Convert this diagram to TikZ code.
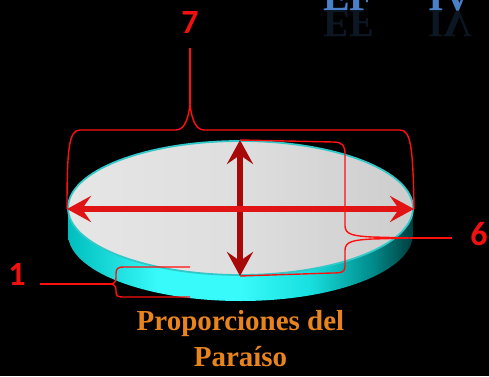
\documentclass[tikz,border=0pt]{standalone}
\usepackage{fontspec}
\setmainfont{Liberation Serif}
\newfontfamily\lblfont{Carlito}
\usetikzlibrary{arrows.meta}
\definecolor{titleblue}{HTML}{4A80C8}
\definecolor{bracered}{HTML}{FF1010}
\definecolor{lblred}{HTML}{F01010}
\definecolor{hred}{HTML}{E01414}
\definecolor{vred}{HTML}{A80808}
\definecolor{capor}{HTML}{E8841E}
\definecolor{rimcyan}{HTML}{30C8C8}
\definecolor{sA}{HTML}{00BEBE}
\definecolor{sB}{HTML}{38FAFA}
\definecolor{sC}{HTML}{18E0E0}
\definecolor{sD}{HTML}{008C8C}
\definecolor{sE}{HTML}{003C3C}
\definecolor{tA}{HTML}{E6E6E6}
\definecolor{tB}{HTML}{DEDEDE}
\definecolor{tC}{HTML}{CDCDCD}
\pgfdeclarehorizontalshading{sideshade}{100bp}{color(0bp)=(sA); color(25bp)=(sA); color(38bp)=(sB); color(50bp)=(sB); color(60bp)=(sC); color(69bp)=(sD); color(75bp)=(sE); color(100bp)=(sE)}
\pgfdeclarehorizontalshading{topshade}{100bp}{color(0bp)=(tA); color(25bp)=(tA); color(50bp)=(tB); color(75bp)=(tC); color(100bp)=(tC)}
\tikzset{
  brace/.style={draw=bracered, line width=1.4pt},
  lbl/.style={text=lblred, font=\lblfont\bfseries\fontsize{34}{34}\selectfont, inner sep=0pt},
  captxt/.style={text=capor, font=\bfseries\fontsize{29}{32}\selectfont, inner sep=0pt, anchor=base},
  ttl/.style={text=titleblue, font=\bfseries\fontsize{40}{40}\selectfont, inner sep=0pt, anchor=base west},
  dimarrow/.style={line width=6.5pt, {Stealth[length=24pt,width=26pt,inset=9pt]}-{Stealth[length=24pt,width=26pt,inset=9pt]}}
}
\begin{document}
\begin{tikzpicture}[x=1pt,y=1pt]
\useasboundingbox (0,0) rectangle (489,376);
\fill[black] (0,0) rectangle (489,376);
% title (cut off at the top)
\node[ttl] (t1) at (323,366) {EF};
\node[ttl] (t2) at (428,366) {IV};
\begin{scope}[shift={(0,366)}, yscale=-1]
\node[ttl, transform shape, opacity=0.18] (t1r) at (323,0) {EF};
\node[ttl, transform shape, opacity=0.18] (t2r) at (428,0) {IV};
\end{scope}
% disc side
\shade[shading=sideshade] (68,168) -- (68,142) arc[start angle=180,end angle=360,x radius=172.5,y radius=67] -- (413,168) arc[start angle=0,end angle=-180,x radius=172.5,y radius=67] -- cycle;
% disc top
\shade[shading=topshade, draw=rimcyan, line width=1.8pt] (240.5,168) ellipse[x radius=172.5,y radius=67];
% arrow ends
\coordinate (L) at (67,167);
\coordinate (R) at (414,167);
\coordinate (T) at (240,236);
\coordinate (B) at (240,100);
\draw[dimarrow, draw=vred, fill=vred] (B) -- (T);
\draw[dimarrow, draw=hred, fill=hred] (L) -- (R);
% labels
\node[lbl] (n7) at (190,354) {7};
\node[lbl] (n6) at (479,142) {6};
\node[lbl] (n1) at (17,102) {1};
% brace 7
\coordinate (c7) at (190,272);
\coordinate (e7) at (190,328);
\draw[brace] (L) .. controls (67,228) and (69,246) .. (80,246) -- (176,246) .. controls (186,246) and (189,262) .. (c7)
  .. controls (191,262) and (194,246) .. (204,246) -- (400,246) .. controls (411,246) and (413,228) .. (R);
\draw[brace] (c7) -- (e7);
% brace 6
\coordinate (c6) at (410,138);
\coordinate (e6) at (452,138);
\draw[brace] (T) -- (333,234) .. controls (343,234) and (345,230) .. (345,222) -- (345,150) .. controls (345,141) and (355,140) .. (372,139) -- (c6)
  -- (372,137) .. controls (355,136) and (345,135) .. (345,126) -- (345,110) .. controls (345,104) and (342,103) .. (332,103) -- (B);
\draw[brace] (c6) -- (e6);
% brace 1
\coordinate (u1) at (190,109);
\coordinate (d1) at (190,79);
\coordinate (c1) at (110,92);
\coordinate (e1) at (40,92);
\draw[brace] (u1) -- (124,109) .. controls (117,109) and (116,107) .. (116,102) -- (116,98) .. controls (116,94) and (114,92) .. (c1)
  .. controls (114,92) and (116,90) .. (116,86) -- (116,85) .. controls (116,80) and (117,79) .. (124,79) -- (d1);
\draw[brace] (c1) -- (e1);
% caption
\node[captxt] (cap1) at (240.5,46) {Proporciones del};
\node[captxt] (cap2) at (240.5,10) {Paraíso};
\end{tikzpicture}
\end{document}
